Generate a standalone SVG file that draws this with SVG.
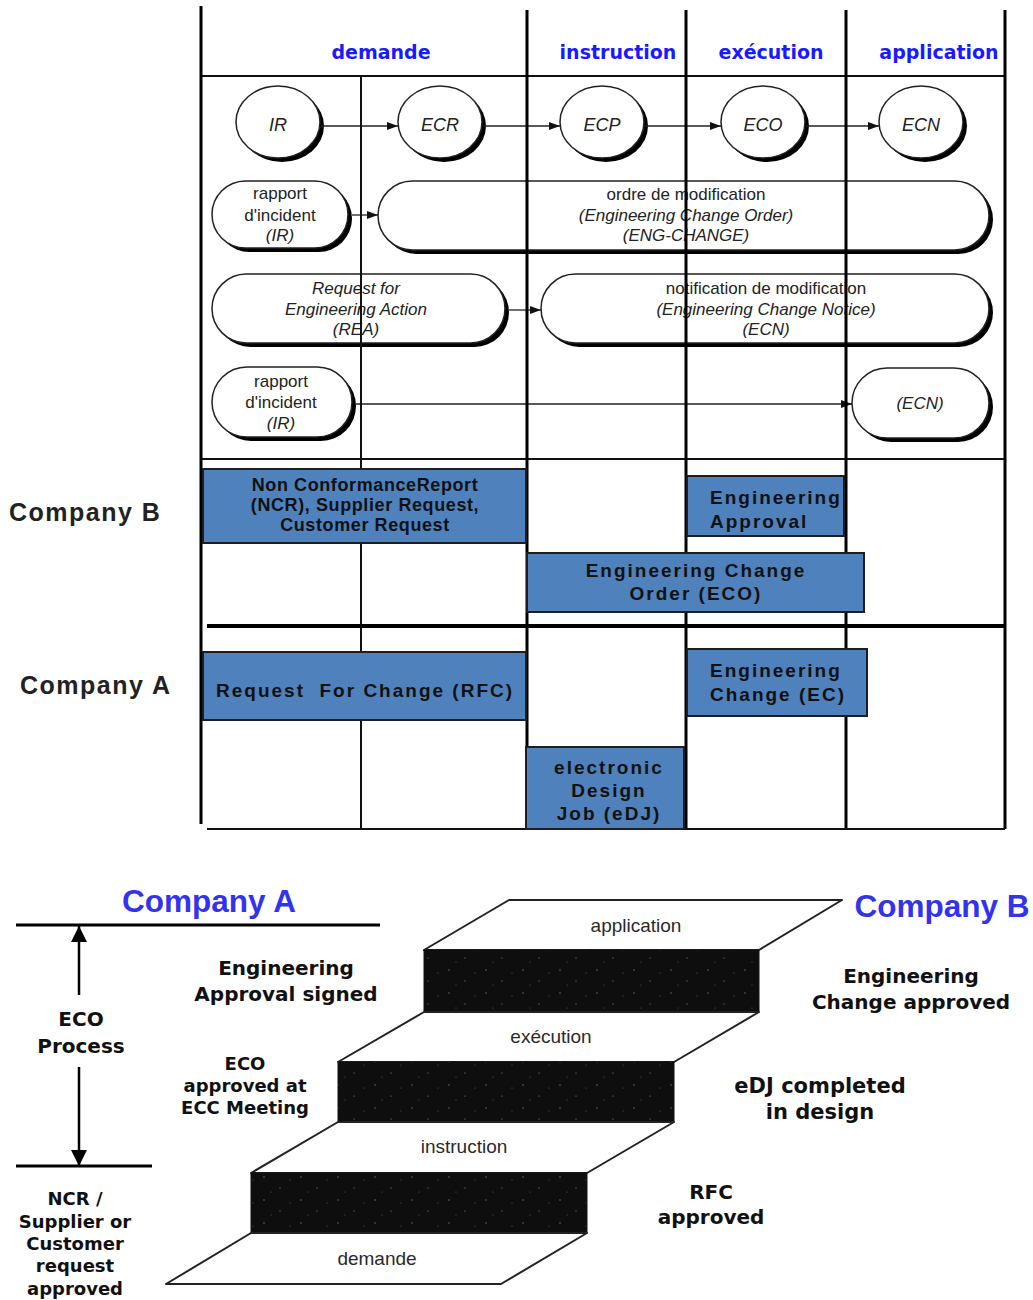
<svg xmlns="http://www.w3.org/2000/svg" width="1033" height="1300" viewBox="0 0 1033 1300">
<defs>
<style>
.hdr{font-family:"DejaVu Sans",Verdana,sans-serif;font-weight:bold;font-size:19px;fill:#1a1aff;text-anchor:middle}
.lbl{font-family:"Liberation Sans",Arial,sans-serif;font-size:17px;fill:#222;text-anchor:middle}
.cl{font-family:"Liberation Sans",Arial,sans-serif;font-size:18px;font-style:italic;fill:#222;text-anchor:middle}
.it{font-style:italic}
.sh{fill:#000}
.wt{fill:#fff;stroke:#222;stroke-width:1.5}
.grid{stroke:#000;stroke-width:3;fill:none}
.thin{stroke:#111;stroke-width:2;fill:none}
.conn{stroke:#222;stroke-width:1.3;fill:none;marker-end:url(#ah)}
.box{fill:#4f81bd;stroke:#1e1e1e;stroke-width:2}
.bt{font-family:"Liberation Sans",Arial,sans-serif;font-weight:bold;font-size:19px;fill:#111;letter-spacing:2px}
.nt{font-family:"Liberation Sans",Arial,sans-serif;font-weight:bold;font-size:18px;fill:#111;letter-spacing:0.6px;text-anchor:middle}
.co{font-family:"Liberation Sans",Arial,sans-serif;font-weight:bold;font-size:25px;fill:#222;letter-spacing:1.5px}
.big{font-family:"Liberation Sans",Arial,sans-serif;font-weight:bold;font-size:31.5px;fill:#3333ee;text-anchor:middle}
.note{font-family:"DejaVu Sans",Verdana,sans-serif;font-weight:bold;font-size:20px;fill:#111;text-anchor:middle}
.step{font-family:"Liberation Sans",Arial,sans-serif;font-size:19px;fill:#2a2a2a;text-anchor:middle}
.plane{fill:#fff;stroke:#222;stroke-width:2;stroke-linejoin:round}
.band{fill:url(#speck);stroke:#111;stroke-width:1}
</style>
<marker id="ah" markerUnits="userSpaceOnUse" markerWidth="11" markerHeight="8" refX="11" refY="4" orient="auto">
<path d="M0,0 L11,4 L0,8 z" fill="#111"/>
</marker>
<marker id="bh" markerUnits="userSpaceOnUse" markerWidth="17" markerHeight="16" refX="16" refY="8" orient="auto">
<path d="M0,0 L16,8 L0,16 z" fill="#000"/>
</marker>
<pattern id="speck" width="37" height="23" patternUnits="userSpaceOnUse">
<rect width="37" height="23" fill="#0e0e0e"/>
<circle cx="5" cy="4" r="0.7" fill="#777"/>
<circle cx="21" cy="15" r="0.6" fill="#888"/>
<circle cx="31" cy="7" r="0.5" fill="#666"/>
<circle cx="12" cy="19" r="0.6" fill="#555"/>
</pattern>
</defs>

<!-- Top chart: header labels -->
<g id="headers">
<text class="hdr" x="381" y="59">demande</text>
<text class="hdr" x="618" y="59">instruction</text>
<text class="hdr" x="771" y="59">exécution</text>
<text class="hdr" x="939" y="59">application</text>
</g>

<!-- Circles -->
<g id="node-IR"><ellipse class="sh" cx="282" cy="126" rx="42" ry="36"/><ellipse class="wt" cx="278" cy="122" rx="42" ry="36"/><text class="cl" x="278" y="131">IR</text></g>
<g id="node-ECR"><ellipse class="sh" cx="444" cy="126" rx="42" ry="36"/><ellipse class="wt" cx="440" cy="122" rx="42" ry="36"/><text class="cl" x="440" y="131">ECR</text></g>
<g id="node-ECP"><ellipse class="sh" cx="606" cy="126" rx="42" ry="36"/><ellipse class="wt" cx="602" cy="122" rx="42" ry="36"/><text class="cl" x="602" y="131">ECP</text></g>
<g id="node-ECO"><ellipse class="sh" cx="767" cy="126" rx="42" ry="36"/><ellipse class="wt" cx="763" cy="122" rx="42" ry="36"/><text class="cl" x="763" y="131">ECO</text></g>
<g id="node-ECN"><ellipse class="sh" cx="925" cy="126" rx="42" ry="36"/><ellipse class="wt" cx="921" cy="122" rx="42" ry="36"/><text class="cl" x="921" y="131">ECN</text></g>

<!-- Pills -->
<g id="node-rapport1">
<rect class="sh" x="216" y="185" width="136" height="67" rx="33.5"/>
<rect class="wt" x="212" y="181" width="136" height="67" rx="33.5"/>
<text class="lbl" x="280" y="199">rapport</text>
<text class="lbl" x="280" y="221">d'incident</text>
<text class="lbl it" x="280" y="241">(IR)</text>
</g>
<g id="node-ordre">
<rect class="sh" x="382" y="185" width="611" height="69" rx="34.5"/>
<rect class="wt" x="378" y="181" width="611" height="69" rx="34.5"/>
<text class="lbl" x="686" y="200">ordre de modification</text>
<text class="lbl it" x="686" y="221">(Engineering Change Order)</text>
<text class="lbl it" x="686" y="241">(ENG-CHANGE)</text>
</g>
<g id="node-REA">
<rect class="sh" x="216" y="278" width="293" height="69" rx="34.5"/>
<rect class="wt" x="212" y="274" width="293" height="69" rx="34.5"/>
<text class="lbl it" x="356" y="294">Request for</text>
<text class="lbl it" x="356" y="315">Engineering Action</text>
<text class="lbl it" x="356" y="335">(REA)</text>
</g>
<g id="node-notification">
<rect class="sh" x="545" y="278" width="448" height="69" rx="34.5"/>
<rect class="wt" x="541" y="274" width="448" height="69" rx="34.5"/>
<text class="lbl" x="766" y="294">notification de modification</text>
<text class="lbl it" x="766" y="315">(Engineering Change Notice)</text>
<text class="lbl it" x="766" y="335">(ECN)</text>
</g>
<g id="node-rapport2">
<rect class="sh" x="216" y="371" width="140" height="70" rx="35"/>
<rect class="wt" x="212" y="367" width="140" height="70" rx="35"/>
<text class="lbl" x="281" y="387">rapport</text>
<text class="lbl" x="281" y="408">d'incident</text>
<text class="lbl it" x="281" y="429">(IR)</text>
</g>
<g id="node-ECN2">
<rect class="sh" x="856" y="372" width="137" height="70" rx="35"/>
<rect class="wt" x="852" y="368" width="137" height="70" rx="35"/>
<text class="lbl it" x="920" y="409">(ECN)</text>
</g>

<!-- Connectors -->
<g id="connectors">
<line class="conn" x1="321" y1="126" x2="398" y2="126"/>
<line class="conn" x1="483" y1="126" x2="560" y2="126"/>
<line class="conn" x1="645" y1="126" x2="721" y2="126"/>
<line class="conn" x1="806" y1="126" x2="879" y2="126"/>
<line class="conn" x1="352" y1="215" x2="378" y2="215"/>
<line class="conn" x1="509" y1="310" x2="541" y2="310"/>
<line class="conn" x1="356" y1="404" x2="852" y2="404"/>
<line stroke="#000" stroke-width="2.5" marker-end="url(#bh)" x1="79" y1="995" x2="79" y2="926"/>
<line stroke="#000" stroke-width="2.5" marker-end="url(#bh)" x1="79" y1="1067" x2="79" y2="1166"/>
</g>

<!-- Grid lines -->
<g id="grid">
<line class="thin" x1="201" y1="76" x2="1005" y2="76"/>
<line class="thin" x1="201" y1="459" x2="1005" y2="459"/>
<line class="thin" x1="361" y1="76" x2="361" y2="829"/>
<line class="grid" x1="201" y1="6" x2="201" y2="824"/>
<line class="grid" x1="527" y1="10" x2="527" y2="829"/>
<line class="grid" x1="686" y1="10" x2="686" y2="829"/>
<line class="grid" x1="846" y1="10" x2="846" y2="829"/>
<line class="grid" x1="1005" y1="10" x2="1005" y2="829"/>
<line stroke="#000" stroke-width="4" x1="207" y1="626" x2="1005" y2="626"/>
<line class="thin" x1="207" y1="829" x2="1005" y2="829"/>
</g>

<!-- Company labels -->
<g id="companyB-label"><text class="co" x="9" y="521">Company B</text></g>
<g id="companyA-label"><text class="co" x="20" y="694">Company A</text></g>

<!-- Blue boxes -->
<g id="node-NCR">
<rect class="box" x="203" y="469" width="323" height="74"/>
<text class="nt" x="365" y="491">Non ConformanceReport</text>
<text class="nt" x="365" y="511">(NCR), Supplier Request,</text>
<text class="nt" x="365" y="531">Customer Request</text>
</g>
<g id="node-EngApproval">
<rect class="box" x="687" y="476" width="157" height="60"/>
<text class="bt" x="710" y="504">Engineering</text>
<text class="bt" x="710" y="528">Approval</text>
</g>
<g id="node-ECObox">
<rect class="box" x="527" y="553" width="337" height="59"/>
<text class="bt" x="696" y="577" text-anchor="middle">Engineering Change</text>
<text class="bt" x="696" y="600" text-anchor="middle">Order (ECO)</text>
</g>
<g id="node-RFC">
<rect class="box" x="203" y="652" width="323" height="68"/>
<text class="bt" x="216" y="697" style="white-space:pre">Request  For Change (RFC)</text>
</g>
<g id="node-EC">
<rect class="box" x="687" y="649" width="180" height="67"/>
<text class="bt" x="710" y="677">Engineering</text>
<text class="bt" x="710" y="701">Change (EC)</text>
</g>
<g id="node-eDJ">
<rect class="box" x="526" y="747" width="158" height="82"/>
<text class="bt" x="609" y="774" text-anchor="middle">electronic</text>
<text class="bt" x="609" y="797" text-anchor="middle">Design</text>
<text class="bt" x="609" y="820" text-anchor="middle">Job (eDJ)</text>
</g>

<!-- Bottom: staircase -->
<g id="stairs">
<polygon class="plane" points="424,950 509,900 842,900 759,950"/>
<rect class="band" x="424" y="950" width="335" height="62"/>
<polygon class="plane" points="338,1062 424,1012 759,1012 674,1062"/>
<rect class="band" x="338" y="1062" width="336" height="60"/>
<polygon class="plane" points="251,1173 338,1122 674,1122 587,1173"/>
<rect class="band" x="251" y="1173" width="336" height="60"/>
<polygon class="plane" points="166,1284 251,1233 587,1233 501,1284"/>
<text class="step" x="636" y="932">application</text>
<text class="step" x="551" y="1043">exécution</text>
<text class="step" x="464" y="1153">instruction</text>
<text class="step" x="377" y="1265">demande</text>
</g>

<g id="bottom-lines">
<line stroke="#000" stroke-width="3" x1="16" y1="925" x2="380" y2="925"/>
<line stroke="#000" stroke-width="3" x1="16" y1="1166" x2="152" y2="1166"/>
</g>

<g id="bottom-labels">
<text class="big" x="209" y="912">Company A</text>
<text class="big" x="942" y="917">Company B</text>
<text class="note" x="81" y="1026">ECO</text>
<text class="note" x="81" y="1053">Process</text>
<text class="note" x="286" y="975">Engineering</text>
<text class="note" x="286" y="1001">Approval signed</text>
<text class="note" x="245" y="1070" style="font-size:18px">ECO</text>
<text class="note" x="245" y="1092" style="font-size:18px">approved at</text>
<text class="note" x="245" y="1114" style="font-size:18px">ECC Meeting</text>
<text class="note" x="75" y="1205" style="font-size:18px">NCR /</text>
<text class="note" x="75" y="1228" style="font-size:18px">Supplier or</text>
<text class="note" x="75" y="1250" style="font-size:18px">Customer</text>
<text class="note" x="75" y="1272" style="font-size:18px">request</text>
<text class="note" x="75" y="1295" style="font-size:18px">approved</text>
<text class="note" x="911" y="983">Engineering</text>
<text class="note" x="911" y="1009">Change approved</text>
<text class="note" x="820" y="1093" style="font-size:21px">eDJ completed</text>
<text class="note" x="820" y="1119" style="font-size:21px">in design</text>
<text class="note" x="711" y="1199">RFC</text>
<text class="note" x="711" y="1224">approved</text>
</g>
</svg>
